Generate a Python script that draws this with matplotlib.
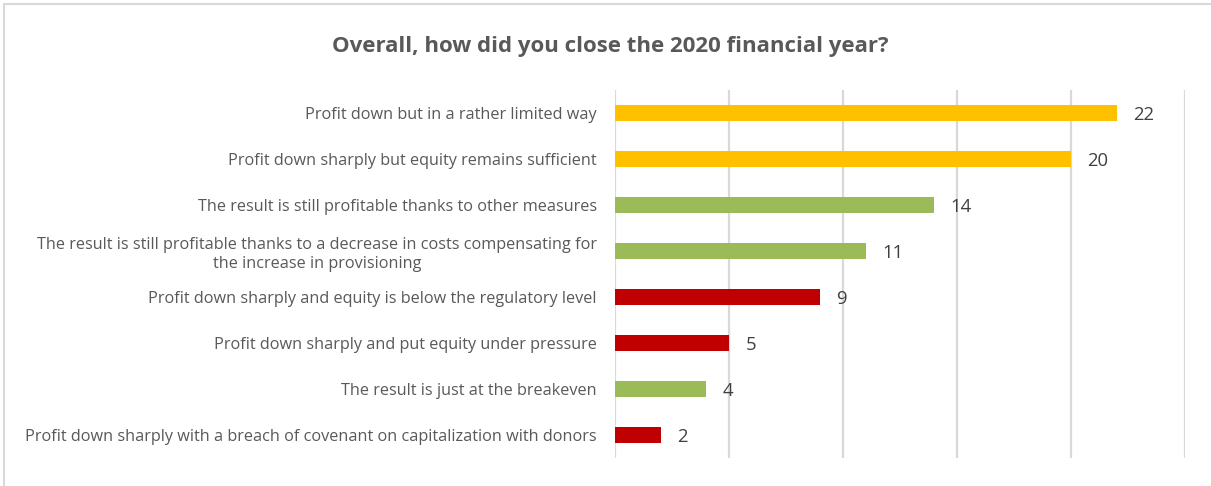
import matplotlib
matplotlib.use("Agg")
import matplotlib.pyplot as plt
from matplotlib.patches import Rectangle

# Survey answers, listed top to bottom
categories = [
    "Profit down but in a rather limited way",
    "Profit down sharply but equity remains sufficient",
    "The result is still profitable thanks to other measures",
    "The result is still profitable thanks to a decrease in costs compensating for\nthe increase in provisioning",
    "Profit down sharply and equity is below the regulatory level",
    "Profit down sharply and put equity under pressure",
    "The result is just at the breakeven",
    "Profit down sharply with a breach of covenant on capitalization with donors",
]
values = [22, 20, 14, 11, 9, 5, 4, 2]
groups = ["limited", "limited", "profit", "profit", "severe", "severe", "profit", "severe"]
title = "Overall, how did you close the 2020 financial year?"
x_max = 25
x_ticks = [0, 5, 10, 15, 20, 25]

palette = {"limited": "#FFC000", "profit": "#9BBB59", "severe": "#C00000"}

plt.rcParams["font.family"] = ["Open Sans", "DejaVu Sans"]

fig = plt.figure(figsize=(12.11, 4.86), dpi=100)
ax = fig.add_axes([0.5078, 0.0576, 0.4707, 0.7572])

ypos = list(range(len(values)))
ax.barh(ypos, values, height=0.35, color=[palette[g] for g in groups], zorder=3)

ax.set_ylim(len(values) - 0.5, -0.5)
ax.set_xlim(0, x_max)
ax.set_xticks(x_ticks)
ax.xaxis.grid(True, color="#D9D9D9", linewidth=1.6, zorder=0)
ax.tick_params(axis="x", length=0, labelbottom=False)
ax.tick_params(axis="y", length=0, pad=13)
ax.set_yticks(ypos)
ax.set_yticklabels(categories, fontsize=11.7, color="#595959", multialignment="center",
                   linespacing=1.25)
for s in ax.spines.values():
    s.set_visible(False)

for y, v in zip(ypos, values):
    ax.text(v + 0.72, y, str(v), va="center_baseline", ha="left", fontsize=13.3,
            color="#404040", zorder=4)

fig.text(0.504, 0.905, title, ha="center", va="center", fontsize=16,
         fontweight="bold", color="#595959")

# thin frame around the chart area
fig.patches.append(Rectangle((0.0035, -0.05), 1.1, 1.042, transform=fig.transFigure,
                             fill=False, edgecolor="#D9D9D9", linewidth=1.5))

fig.savefig("out.png", dpi=100, facecolor="white")
